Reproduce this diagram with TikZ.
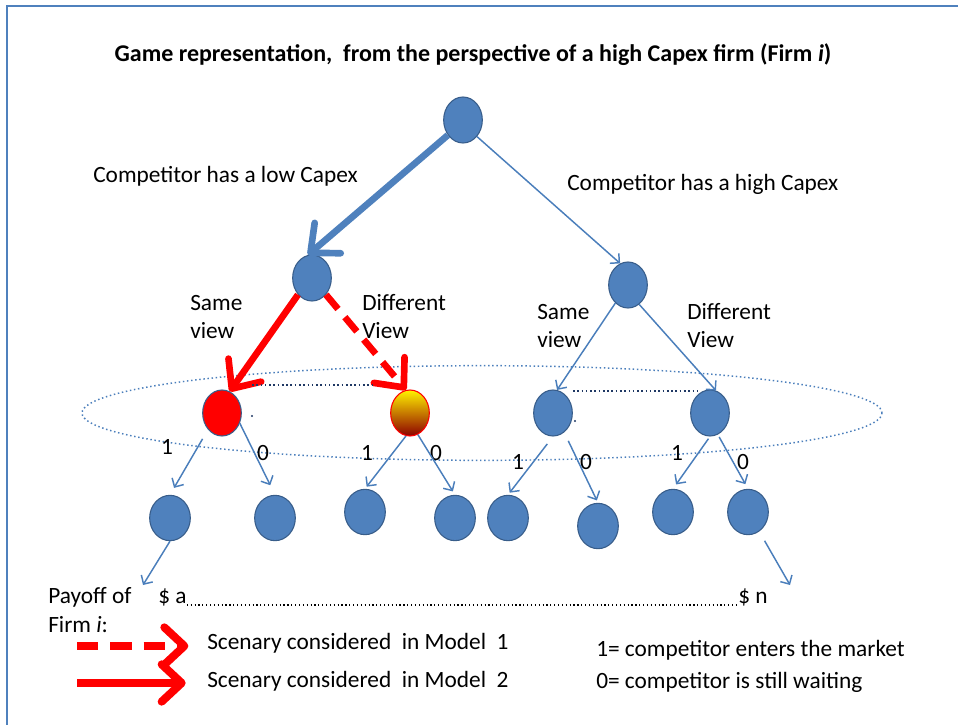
\documentclass[tikz,border=0pt]{standalone}
\usepackage{fontspec}
\setmainfont{Carlito}
\usepackage{tikz}
\usetikzlibrary{positioning,arrows.meta,shapes.geometric}
\definecolor{nodeblue}{HTML}{4F81BD}
\definecolor{rimblue}{HTML}{385D8A}
\definecolor{lineblue}{HTML}{4A7EBB}
\definecolor{dotnavy}{HTML}{1F3864}

\begin{document}
\begin{tikzpicture}[
    x=0.75pt, y=-0.75pt,
    every node/.style={font=\fontsize{17.5}{21}\selectfont, inner sep=0pt},
    stage/.style={ellipse, draw=rimblue, line width=0.8pt, fill=nodeblue, minimum width=29pt, minimum height=34.5pt},
    leaf/.style={stage, minimum width=30.5pt, minimum height=34pt},
    lbl/.style={anchor=west, align=left},
    thin/.style={-{Straight Barb[length=5pt,width=10pt]}, lineblue, line width=1.1pt},
    fat/.style={-{Straight Barb[length=17pt,width=30pt,round]}, line width=5pt},
    dashfat/.style={fat, dash pattern=on 14pt off 8pt},
    bighead/.style={-{Straight Barb[length=15pt,width=28pt,round]}, line width=6pt},
    infoset/.style={dotnavy, dash pattern=on 1.2pt off 2pt, line width=1.3pt},
    payline/.style={black, dotted, line width=0.9pt}
]
\useasboundingbox (0,0) rectangle (958,725);
\draw[nodeblue, line width=1.5pt] (7,725) -- (7,6) -- (958,6);

\draw[lineblue, dotted, line width=1.1pt] (482,413) ellipse [x radius=300pt, y radius=35.5pt];

\node[font=\fontsize{18}{21}\selectfont\bfseries] (title) at (473,55) {Game representation,\ \ from the perspective of a high Capex firm (Firm \textit{i})};

\node[stage] (root) at (463,120) {};
\node[stage] (low) at (312,278) {};
\node[stage] (high) at (628,285) {};
\node[stage, fill=red] (ss) at (222,413) {};
\node[stage, draw=red, top color=yellow!90!orange, middle color=orange!35!red, bottom color=red!55!black] (sd) at (410,413) {};
\node[stage] (hs) at (553,413) {};
\node[stage] (hd) at (710,413) {};

\node[leaf] (l1) at (170,518) {};
\node[leaf] (l2) at (275,518) {};
\node[leaf] (l3) at (365,512) {};
\node[leaf] (l4) at (455,518) {};
\node[leaf] (l5) at (508,518) {};
\node[leaf] (l6) at (598,526) {};
\node[leaf] (l7) at (673,512) {};
\node[leaf] (l8) at (748,512) {};

\node[lbl] (lowcap) at (93,176) {Competitor has a low Capex};
\node[lbl] (highcap) at (567,184) {Competitor has a high Capex};
\node[lbl] (same1) at (190,317) {Same\\view};
\node[lbl] (diff1) at (362,317) {Different\\View};
\node[lbl] (same2) at (537,326) {Same\\view};
\node[lbl] (diff2) at (687,326) {Different\\View};

\node (e1) at (167,447) {1};
\node (w1) at (263,453) {0};
\node (e2) at (367,453) {1};
\node (w2) at (436,453) {0};
\node (e3) at (518,462) {1};
\node (w3) at (586,462) {0};
\node (e4) at (677,453) {1};
\node (w4) at (743,462) {0};

\node[circle, fill=dotnavy, inner sep=0.6pt] (dot1) at (252,416) {};
\node[circle, fill=dotnavy, inner sep=0.6pt] (dot2) at (575,421) {};

\draw[fat, nodeblue] (root.225) -- (low.100);
\draw[thin] (root.south east) -- (high.110);
\draw[fat, red] (low.230) -- (ss.70);
\draw[dashfat, red] (low.310) -- (sd.100);
\draw[thin] (high.235) -- (hs.80);
\draw[thin] (high.300) -- (hd.75);

\draw[infoset] ([xshift=12pt,yshift=8.25pt]ss.north east) -- ([xshift=-15.75pt,yshift=8.25pt]sd.north west);
\draw[infoset] ([xshift=4.5pt,yshift=3.75pt]hs.north east) -- ([xshift=1.5pt,yshift=3.75pt]hd.north west);

\draw[thin, shorten <=8pt, shorten >=6pt] (ss.south west) -- (l1.north);
\draw[thin, shorten >=8pt] (ss.-30) -- (l2.north);
\draw[thin, shorten >=2pt] (sd.260) -- (l3.north);
\draw[thin, shorten >=3pt] (sd.290) -- (l4.north);
\draw[thin, shorten <=7pt, shorten >=2pt] (hs.south) -- (l5.north);
\draw[thin, shorten <=7pt, shorten >=2pt] (hs.-60) -- (l6.north);
\draw[thin, shorten <=2pt, shorten >=4pt] (hd.south) -- (l7.north);
\draw[thin, shorten <=2pt, shorten >=4pt] (hd.-70) -- (l8.north);

\coordinate (pa) at (143,585);
\coordinate (pn) at (790,585);
\draw[thin] (l1.south) -- (pa);
\draw[thin, shorten <=8pt] (l8.-60) -- (pn);

\node[lbl] (payoff) at (48,597) {Payoff of};
\node[lbl] (firm) at (48,625) {Firm \textit{i}:};
\node[lbl] (sa) at (158,597) {\$ a};
\node[lbl] (sn) at (738,597) {\$ n};
\draw[payline] ([yshift=-6pt]sa.east) -- ([yshift=-6pt]sn.west);

\coordinate (k1) at (77,646);
\coordinate (k2) at (77,683);
\node[lbl] (m1) at (207,643) {Scenary considered\ \ in Model\ \ 1};
\node[lbl] (m2) at (207,681) {Scenary considered\ \ in Model\ \ 2};
\draw[bighead, red, dash pattern=on 16pt off 9pt] (k1) -- ([xshift=-14pt]m1.west |- k1);
\draw[bighead, red] (k2) -- ([xshift=-16pt]m2.west |- k2);

\node[lbl] (one) at (596,650) {1= competitor enters the market};
\node[lbl] (zero) at (596,682) {0= competitor is still waiting};
\end{tikzpicture}
\end{document}
